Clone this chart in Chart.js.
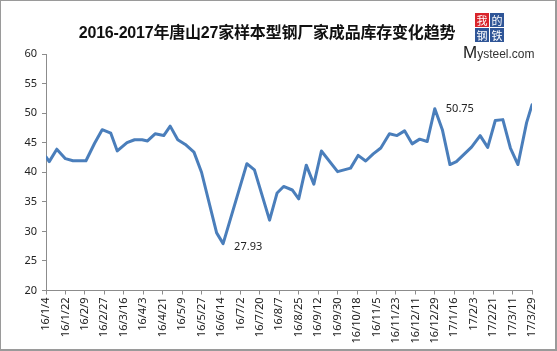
<!DOCTYPE html>
<html>
<head>
<meta charset="utf-8">
<script src="https://cdn.jsdelivr.net/npm/chart.js@4/dist/chart.umd.min.js"></script>
<style>
  body { margin: 0; background: #fff; }
  #wrap { position: relative; width: 557px; height: 351px; overflow: hidden; }
  #frame { position: absolute; left: 0; top: 0; width: 554px; height: 348px; border: 1px solid #9a9a9a; border-right-width: 2px; border-bottom-width: 2px; pointer-events: none; }
  #title { position: absolute; left: 75px; top: 19px; width: 384px; text-align: center; font: bold 16px "Liberation Sans", "Noto Sans CJK SC", sans-serif; color: #111; white-space: nowrap; letter-spacing: -0.2px; }
  .sq { position: absolute; width: 14px; height: 14px; color: #fff; font: 11px "Noto Sans CJK SC", sans-serif; line-height: 14px; text-align: center; }
  #brand { position: absolute; left: 463px; top: 43px; font: 12px "Liberation Sans", sans-serif; color: #333; }
  #brand b { font-size: 17px; font-weight: normal; color: #222; }
</style>
</head>
<body>
<div id="wrap">
  <canvas id="stockChart" width="557" height="351"></canvas>
  <div id="title">2016-2017年唐山27家样本型钢厂家成品库存变化趋势</div>
  <div class="sq" style="left:475px;top:13px;background:#d9242b">我</div>
  <div class="sq" style="left:490px;top:13px;background:#2f5597">的</div>
  <div class="sq" style="left:475px;top:28px;background:#2f5597">钢</div>
  <div class="sq" style="left:490px;top:28px;background:#2f5597">铁</div>
  <div id="brand"><b>M</b>ysteel.com</div>
  <div id="frame"></div>
</div>
<script>
// days counted from 16/1/4
const days = [0, 3, 10, 18, 25, 37, 45, 52, 60, 66, 75, 82, 89, 94, 101, 109, 115, 122, 129, 137,
  144, 158, 164, 186, 193, 207, 214, 220, 228, 234, 241, 248, 255, 270, 282, 289, 296, 303, 310,
  318, 325, 332, 339, 346, 353, 360, 367, 374, 380, 394, 402, 409, 416, 423, 430, 437, 445, 450];
const stock = [42.6, 41.8, 43.9, 42.3, 41.95, 41.95, 44.9, 47.2, 46.6, 43.6, 45.0, 45.5, 45.5, 45.3, 46.5, 46.2, 47.8, 45.5, 44.7, 43.4,
  40.0, 29.75, 27.93, 41.45, 40.4, 31.9, 36.5, 37.6, 37.0, 35.5, 41.2, 38.0, 43.6, 40.1, 40.7, 42.85, 41.9, 43.1, 44.1,
  46.5, 46.2, 47.0, 44.8, 45.6, 45.2, 50.75, 47.2, 41.3, 41.8, 44.25, 46.2, 44.2, 48.75, 48.9, 44.1, 41.3, 48.4, 51.4];
const tickLabels = ["16/1/4", "16/1/22", "16/2/9", "16/2/27", "16/3/16", "16/4/3", "16/4/21", "16/5/9",
  "16/5/27", "16/6/14", "16/7/2", "16/7/20", "16/8/7", "16/8/25", "16/9/12", "16/9/30", "16/10/18",
  "16/11/5", "16/11/23", "16/12/11", "16/12/29", "17/1/16", "17/2/3", "17/2/21", "17/3/11", "17/3/29"];
const labelled = [27.93, 50.75];

const axisColor = "#8c8c8c";
const tickFont = { family: "Noto Sans", size: 11 };

const pointLabels = {
  id: "pointLabels",
  afterDatasetsDraw(chart) {
    const ctx = chart.ctx;
    const meta = chart.getDatasetMeta(0);
    ctx.save();
    ctx.font = "11px 'Noto Sans'";
    ctx.fillStyle = "#222";
    ctx.textAlign = "left";
    ctx.textBaseline = "middle";
    stock.forEach((v, i) => {
      if (labelled.includes(v)) {
        const p = meta.data[i];
        ctx.fillText(v.toFixed(2), p.x + 11, p.y + (v < 30 ? 3 : 0));
      }
    });
    ctx.restore();
  }
};

new Chart(document.getElementById("stockChart"), {
  type: "line",
  data: {
    datasets: [{
      data: days.map((d, i) => ({ x: d, y: stock[i] })),
      borderColor: "#4a7ebb",
      borderWidth: 3,
      borderJoinStyle: "round",
      borderCapStyle: "round",
      pointRadius: 0,
      tension: 0
    }]
  },
  options: {
    responsive: false,
    animation: false,
    layout: { padding: { top: 54, right: 25, left: 0, bottom: 0 } },
    plugins: { legend: { display: false }, tooltip: { enabled: false } },
    scales: {
      x: {
        type: "linear",
        min: 0,
        max: 450,
        afterFit: s => { s.height = 60.5; },
        border: { color: axisColor, width: 1 },
        grid: { drawOnChartArea: false, drawTicks: true, tickLength: 4, color: axisColor },
        ticks: {
          stepSize: 18,
          autoSkip: false,
          maxRotation: 90,
          minRotation: 90,
          padding: 3,
          color: "#222",
          font: tickFont,
          callback: v => tickLabels[Math.round(v / 18)]
        }
      },
      y: {
        min: 20,
        max: 60,
        afterFit: s => { s.width = 46; },
        border: { color: axisColor, width: 1 },
        grid: { drawOnChartArea: false, drawTicks: true, tickLength: 4, color: axisColor },
        ticks: { stepSize: 5, padding: 5, color: "#222", font: tickFont }
      }
    }
  },
  plugins: [pointLabels]
});
</script>
</body>
</html>
